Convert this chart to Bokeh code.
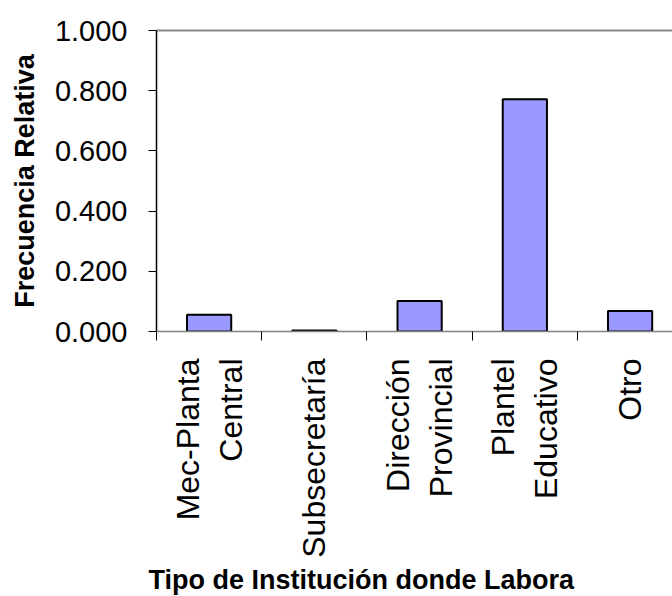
import math
from bokeh.plotting import figure
from bokeh.models import Range1d, FixedTicker, LinearAxis, NumeralTickFormatter, ColumnDataSource, Title
from bokeh.embed import file_html
from bokeh.resources import INLINE

# ---- data ----
categories = ["Mec-Planta\nCentral", "Subsecretaría", "Dirección\nProvincial",
              "Plantel\nEducativo", "Otro"]
values = [0.056, 0.003, 0.101, 0.772, 0.068]
y_ticks = [0.0, 0.2, 0.4, 0.6, 0.8, 1.0]
x_title = "Tipo de Institución donde Labora"
y_title = "Frecuencia Relativa"

FONT = "Liberation Sans"

x_pos = [i + 0.5 for i in range(len(categories))]
source = ColumnDataSource(dict(x=x_pos, top=values, cat=categories))

p = figure(width=672, height=596, output_backend="svg", toolbar_location=None,
           x_range=Range1d(0, 4.903), y_range=Range1d(0, 1.0),
           min_border_left=156, min_border_right=0, min_border_top=30,
           min_border_bottom=265)
p.outline_line_color = None
p.xgrid.visible = False
p.ygrid.visible = False
p.background_fill_color = "white"
p.border_fill_color = "white"

p.vbar(x="x", top="top", width=0.42, source=source,
       fill_color="#9999FF", line_color="black", line_width=2)

# x axis
xa = p.xaxis[0]
xa.ticker = FixedTicker(ticks=x_pos, minor_ticks=list(range(len(categories))))
xa.major_label_overrides = {x: c for x, c in zip(x_pos, categories)}
xa.major_label_orientation = math.pi / 2
xa.major_tick_out = 0
xa.major_tick_in = 0
xa.major_tick_line_color = None
xa.minor_tick_out = 9
xa.minor_tick_in = 0
xa.minor_tick_line_color = "black"
xa.axis_line_color = "#808080"
xa.axis_line_width = 1.5
xa.major_label_standoff = 18
xa.major_label_text_font = FONT
xa.major_label_text_font_size = "32px"
xa.major_label_text_color = "black"

# x axis title (placed as a title below the axis, left-shifted like the reference)
p.add_layout(Title(text=x_title, align="left", offset=-8, standoff=4,
                   text_font=FONT, text_font_style="bold",
                   text_font_size="27px", text_color="black"), "below")

# y axis
ya = p.yaxis[0]
ya.ticker = FixedTicker(ticks=y_ticks, minor_ticks=[])
ya.formatter = NumeralTickFormatter(format="0.000")
ya.major_tick_out = 8
ya.major_tick_in = 0
ya.major_tick_line_color = "black"
ya.axis_line_color = "black"
ya.axis_line_width = 1.5
ya.major_label_standoff = 21
ya.major_label_text_font = FONT
ya.major_label_text_font_size = "29px"
ya.major_label_text_color = "black"
ya.axis_label = y_title
ya.axis_label_text_font = FONT
ya.axis_label_text_font_style = "bold"
ya.axis_label_text_font_size = "27px"
ya.axis_label_text_color = "black"
ya.axis_label_standoff = 12

# top border line
top_axis = LinearAxis(ticker=FixedTicker(ticks=[], minor_ticks=[]),
                      axis_line_color="#888888", axis_line_width=2,
                      major_tick_out=0, major_tick_in=0,
                      major_label_text_font_size="0px")
p.add_layout(top_axis, "above")

open("out.html", "w").write(file_html(p, INLINE))
